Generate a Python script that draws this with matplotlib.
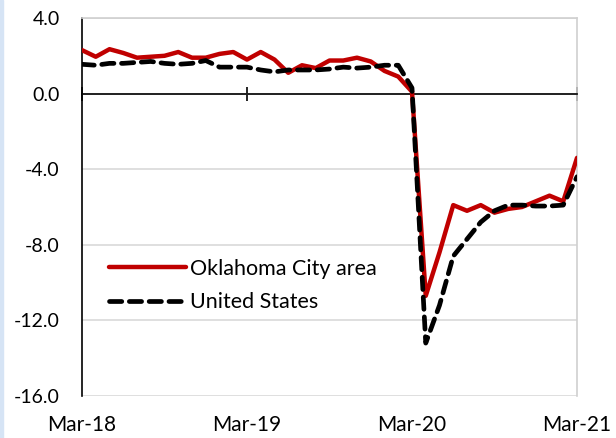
import matplotlib.pyplot as plt
import numpy as np

# monthly values, Mar-18 .. Mar-21
okc = [2.3, 1.95, 2.35, 2.15, 1.9, 1.95, 2.0, 2.2, 1.9, 1.9, 2.1, 2.2,
       1.8, 2.2, 1.8, 1.1, 1.5, 1.35, 1.75, 1.75, 1.9, 1.7, 1.2, 0.9,
       0.1, -10.7, -8.4, -5.9, -6.2, -5.9, -6.3, -6.1, -6.0, -5.7, -5.4, -5.7,
       -3.4]
us = [1.55, 1.5, 1.6, 1.6, 1.65, 1.7, 1.6, 1.55, 1.6, 1.75, 1.4, 1.4,
      1.4, 1.25, 1.15, 1.25, 1.25, 1.25, 1.3, 1.4, 1.35, 1.4, 1.5, 1.5,
      0.3, -13.2, -11.2, -8.6, -7.7, -6.8, -6.2, -5.9, -5.9, -5.95, -5.95, -5.9,
      -4.4]
tick_pos = [0, 12, 24, 36]
tick_labels = ['Mar-18', 'Mar-19', 'Mar-20', 'Mar-21']
yticks = [4, 0, -4, -8, -12, -16]

plt.rcParams['font.family'] = ['Lato', 'DejaVu Sans']
plt.rcParams['font.size'] = 14

fig = plt.figure(figsize=(6.16, 4.38), dpi=100)
ax = fig.add_axes([82/616, 1 - 396/438, (577-82)/616, (396-18)/438])

x = np.arange(len(okc))
ax.plot(x, okc, color='#C00000', lw=3.2, label='Oklahoma City area',
        solid_capstyle='round', zorder=4)
ax.plot(x, us, color='black', lw=3.4, ls=(0, (2.6, 1.6)), dash_capstyle='round',
        label='United States', zorder=5)

ax.set_xlim(0, 36)
ax.set_ylim(-16, 4)
ax.set_yticks(yticks)
ax.set_yticklabels(['%.1f' % v for v in yticks])
ax.tick_params(axis='y', length=0, pad=16, labelsize=14)
ax.yaxis.grid(True, color='#d9d9d9', lw=1.2)
ax.set_axisbelow(True)

# zero line carries the year ticks
ax.spines['bottom'].set_position(('data', 0))
ax.spines['bottom'].set_color('black')
ax.spines['bottom'].set_linewidth(1.2)
ax.set_xticks(tick_pos)
ax.tick_params(axis='x', direction='inout', length=10, width=1.2,
               labelbottom=False)
ax.spines['left'].set_color('black')
ax.spines['left'].set_linewidth(1.2)
for s in ['top', 'right']:
    ax.spines[s].set_color('#d0d0d0')
    ax.spines[s].set_linewidth(1.2)

# date labels below the plot area
sec = ax.secondary_xaxis('bottom')
sec.set_xticks(tick_pos)
sec.set_xticklabels(tick_labels)
sec.tick_params(length=0, pad=14, labelsize=15)
sec.spines['bottom'].set_visible(False)

ax.legend(loc='upper left', bbox_to_anchor=(0.015, 0.415), frameon=False,
          handlelength=3.6, handletextpad=0.15, labelspacing=0.65,
          fontsize=15.5)

# light strip on the left edge
fig.patches.append(plt.Rectangle((0, 0), 3/616, 1, transform=fig.transFigure,
                                 color='#d6e4f5', zorder=0))

fig.savefig('out.png', dpi=100)
